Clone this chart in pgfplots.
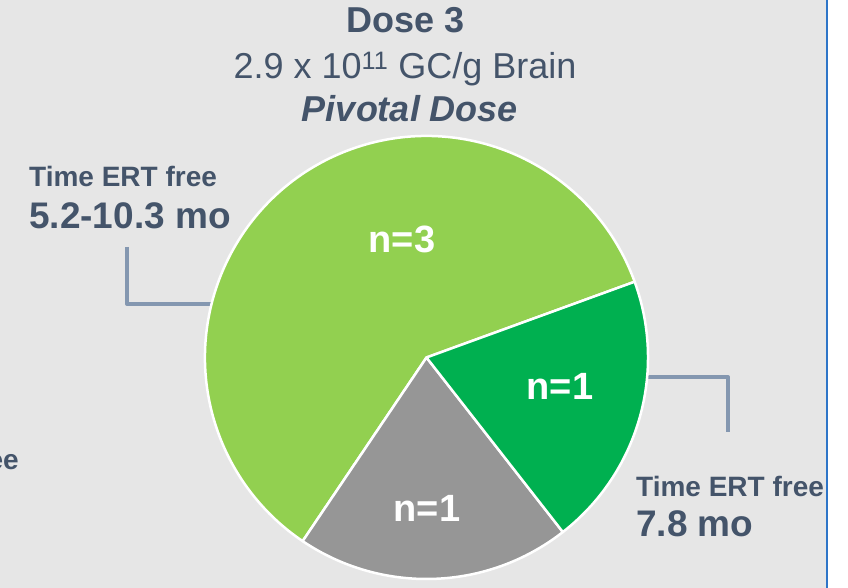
\documentclass[border=0pt]{standalone}
\usepackage{pgfplots}
\pgfplotsset{compat=1.18}
\usepackage{pgfplotstable}
\usepackage{fontspec}
\setmainfont{Liberation Sans}

\definecolor{bg}{HTML}{E6E6E6}
\definecolor{txt}{HTML}{44546A}
\definecolor{conn}{HTML}{8497B0}
\definecolor{lgreen}{HTML}{92D050}
\definecolor{dgreen}{HTML}{00B050}
\definecolor{pgray}{HTML}{969696}
\definecolor{frameblue}{HTML}{2E75C8}

% patients per slice: light green, gray, dark green
\pgfplotstableread{
n
3
1
1
}\pietable

\begin{document}
\begin{tikzpicture}
\useasboundingbox (0,0) rectangle (848pt,588pt);
\clip (0,0) rectangle (848pt,588pt);
\fill[bg] (0,0) rectangle (827pt,588pt);
\draw[frameblue, line width=2pt] (827pt,0) -- (827pt,588pt);

\pgfplotstablegetelem{0}{n}\of\pietable \edef\nA{\pgfplotsretval}
\pgfplotstablegetelem{1}{n}\of\pietable \edef\nB{\pgfplotsretval}
\pgfplotstablegetelem{2}{n}\of\pietable \edef\nC{\pgfplotsretval}
\pgfmathsetmacro\tot{\nA+\nB+\nC}
\pgfmathsetmacro\aS{20}
\pgfmathsetmacro\aA{\aS+360*\nA/\tot}
\pgfmathsetmacro\aB{\aA+360*\nB/\tot}
\pgfmathsetmacro\aC{\aB+360*\nC/\tot}
\def\R{221.5pt}

\begin{axis}[
    x=1pt, y=1pt,
    xmin=0, xmax=848, ymin=0, ymax=588,
    scale only axis,
    anchor=south west, at={(0,0)},
    hide axis, clip=false,
  ]
  % connectors
  \draw[conn, line width=4pt, line join=round]
    (axis cs:127,341) -- (axis cs:127,284) -- (axis cs:212,284);
  \draw[conn, line width=4pt, line join=round]
    (axis cs:644,211) -- (axis cs:728,211) -- (axis cs:728,156);

  % slices
  \filldraw[fill=lgreen, draw=white, line width=2.5pt, line join=round]
    (axis cs:426.5,230.5) -- ++(\aS:\R) arc[start angle=\aS, end angle=\aA, radius=\R] -- cycle;
  \filldraw[fill=pgray, draw=white, line width=2.5pt, line join=round]
    (axis cs:426.5,230.5) -- ++(\aA:\R) arc[start angle=\aA, end angle=\aB, radius=\R] -- cycle;
  \filldraw[fill=dgreen, draw=white, line width=2.5pt, line join=round]
    (axis cs:426.5,230.5) -- ++(\aB:\R) arc[start angle=\aB, end angle=\aC, radius=\R] -- cycle;

  % slice labels
  \node[white, font=\fontsize{38}{40}\selectfont\bfseries, anchor=base, inner sep=0]
    at (axis cs:402,335) {n=\nA};
  \node[white, font=\fontsize{38}{40}\selectfont\bfseries, anchor=base, inner sep=0]
    at (axis cs:427,66) {n=\nB};
  \node[white, font=\fontsize{38}{40}\selectfont\bfseries, anchor=base, inner sep=0]
    at (axis cs:560,188) {n=\nC};

  % title
  \node[txt, font=\fontsize{36}{40}\selectfont\bfseries, anchor=base, inner sep=0]
    at (axis cs:406,555) {Dose 3};
  \node[txt, font=\fontsize{36}{40}\selectfont, anchor=base, inner sep=0]
    at (axis cs:405,509) {2.9 x 10\textsuperscript{11} GC/g Brain};
  \node[txt, font=\fontsize{36}{40}\selectfont\bfseries\itshape, anchor=base, inner sep=0]
    at (axis cs:410,466) {Pivotal Dose};

  % callouts
  \node[txt, font=\fontsize{28}{30}\selectfont\bfseries, anchor=base west, inner sep=0]
    at (axis cs:29,401) {Time ERT free};
  \node[txt, font=\fontsize{37}{40}\selectfont\bfseries, anchor=base west, inner sep=0]
    at (axis cs:29,359) {5.2-10.3 mo};
  \node[txt, font=\fontsize{28}{30}\selectfont\bfseries, anchor=base west, inner sep=0]
    at (axis cs:636,91) {Time ERT free};
  \node[txt, font=\fontsize{37}{40}\selectfont\bfseries, anchor=base west, inner sep=0]
    at (axis cs:636,51) {7.8 mo};
  % neighbouring panel, cut off at the left edge
  \node[txt, font=\fontsize{28}{30}\selectfont\bfseries, anchor=base east, inner sep=0]
    at (axis cs:19,118) {Time ERT free};
\end{axis}
\end{tikzpicture}
\end{document}
